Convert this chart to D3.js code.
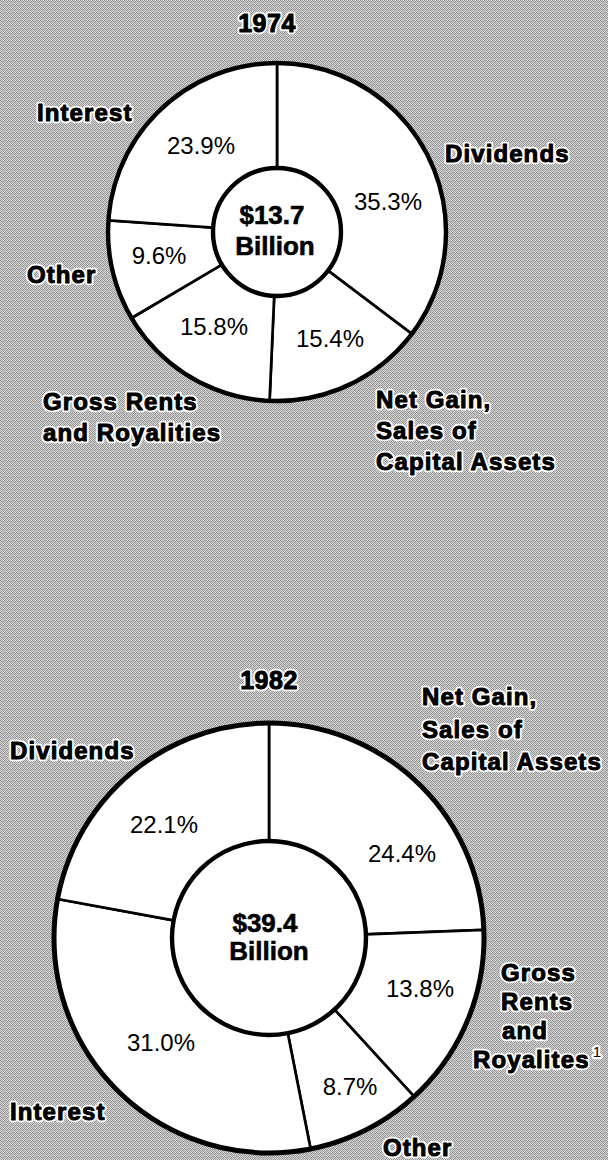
<!DOCTYPE html>
<html>
<head>
<meta charset="utf-8">
<script src="https://cdn.jsdelivr.net/npm/d3@7"></script>
<style>
  body { margin: 0; background: #b0b0b0; }
  svg { display: block; }
  .cat { font-family: "Liberation Sans", Arial, sans-serif; font-weight: bold; font-size: 24px; letter-spacing: 1.1px; }
  .cat.halo { fill: #fff; stroke: #fff; stroke-width: 4.5px; stroke-linejoin: round; }
  .cat.ink { fill: #000; stroke: #000; stroke-width: 1px; stroke-linejoin: round; }
  .pct { font-family: "Liberation Sans", Arial, sans-serif; font-size: 24px; fill: #000; }
  .tot { font-family: "Liberation Sans", Arial, sans-serif; font-weight: bold; font-size: 26px; fill: #000; stroke: #000; stroke-width: 0.6px; }
</style>
</head>
<body>
<svg id="chart" width="608" height="1160"></svg>
<script>
// data
var years = ["1974", "1982"];
var totals = ["$13.7", "$39.4"];
var categories1974 = ["Dividends", "Net Gain, Sales of Capital Assets", "Gross Rents and Royalities", "Other", "Interest"];
var shares1974 = [35.3, 15.4, 15.8, 9.6, 23.9];
var categories1982 = ["Net Gain, Sales of Capital Assets", "Gross Rents and Royalites", "Other", "Interest", "Dividends"];
var shares1982 = [24.4, 13.8, 8.7, 31.0, 22.1];

// how each category name is broken into lines
var lines1974 = [["Dividends"], ["Net Gain,", "Sales of", "Capital Assets"], ["Gross Rents", "and Royalities"], ["Other"], ["Interest"]];
var lines1982 = [["Net Gain,", "Sales of", "Capital Assets"], ["Gross", "Rents", "and", "Royalites"], ["Other"], ["Interest"], ["Dividends"]];

// layout
var layout = [
  { cx: 277, cy: 232, rOut: 169, rIn: 64, ringW: 4.4, yearX: 267, yearY: 32,
    totX: [272, 275], totY: [224, 255],
    pct: [[388, 210], [330, 347], [214, 335], [159, 264], [201, 154]],
    lab: [{x: 445, y: 162}, {x: 376, y: 408, lh: 31}, {x: 43, y: 410, lh: 31}, {x: 27, y: 283}, {x: 37, y: 121}] },
  { cx: 269, cy: 938, rOut: 215, rIn: 97, ringW: 5, yearX: 269, yearY: 689,
    totX: [265, 269], totY: [932, 960],
    pct: [[402, 862], [420, 997], [350, 1095], [161, 1051], [164, 833]],
    lab: [{x: 422, y: 705, lh: 32.5}, {x: 501, y: 981, lh: 29, dx: [0, 0, 1, -28], sup: "1"}, {x: 383, y: 1156}, {x: 10, y: 1120}, {x: 10, y: 759}] }
];

var svg = d3.select("#chart");

// halftone-like background
var defs = svg.append("defs");
var pat = defs.append("pattern").attr("id", "dots")
  .attr("patternUnits", "userSpaceOnUse").attr("width", 4).attr("height", 4);
var tile = ["#8c8c8c", "#d2d2d2", "#a2a2a2", "#dcdcdc",
            "#d6d6d6", "#989898", "#cacaca", "#8c8c8c",
            "#a8a8a8", "#dedede", "#8e8e8e", "#cdcdcd",
            "#d0d0d0", "#949494", "#dadada", "#9e9e9e"];
tile.forEach(function (c, i) {
  pat.append("rect").attr("x", i % 4).attr("y", Math.floor(i / 4))
    .attr("width", 1).attr("height", 1).attr("fill", c);
});
svg.append("rect").attr("width", 608).attr("height", 1160).attr("fill", "url(#dots)");

var pie = d3.pie().sort(null).value(function (d) { return d; });

// bold label with a white halo behind it
function haloText(parent, p, lines, size) {
  ["halo", "ink"].forEach(function (kind) {
    var t = parent.append("text").attr("class", "cat " + kind);
    if (size) t.style("font-size", size + "px").style("letter-spacing", "0.5px");
    lines.forEach(function (ln, j) {
      var dx = p.dx ? p.dx[j] : 0;
      t.append("tspan").attr("x", p.x + dx).attr("y", p.y + j * (p.lh || 0))
        .attr("text-anchor", p.anchor || "start").text(ln);
      if (p.sup && j === lines.length - 1) {
        t.append("tspan").attr("dx", 3).attr("dy", -11)
          .style("font-size", "15px").style("font-weight", "normal")
          .style("stroke-width", kind === "ink" ? "0px" : null).text(p.sup);
      }
    });
  });
}

function drawChart(i, cats, shares, lines) {
  var L = layout[i];
  var arcs = pie(shares);
  var arc = d3.arc().innerRadius(L.rIn).outerRadius(L.rOut);

  var g = svg.append("g")
    .attr("transform", "translate(" + L.cx + "," + L.cy + ")");

  g.selectAll("path.slice")
    .data(arcs)
    .enter().append("path")
    .attr("class", "slice")
    .attr("d", arc)
    .attr("fill", "#fff")
    .attr("stroke", "#000")
    .attr("stroke-width", 2.7);

  g.append("circle").attr("r", L.rOut).attr("fill", "none")
    .attr("stroke", "#000").attr("stroke-width", L.ringW);
  g.append("circle").attr("r", L.rIn).attr("fill", "#fff")
    .attr("stroke", "#000").attr("stroke-width", 4.4);

  // year
  haloText(svg, {x: L.yearX, y: L.yearY, anchor: "middle"}, [years[i]], 25);

  // total in the middle
  svg.append("text").attr("class", "tot")
    .attr("x", L.totX[0]).attr("y", L.totY[0]).attr("text-anchor", "middle")
    .text(totals[i]);
  svg.append("text").attr("class", "tot")
    .attr("x", L.totX[1]).attr("y", L.totY[1]).attr("text-anchor", "middle")
    .text("Billion");

  // percentages
  svg.selectAll(null)
    .data(arcs)
    .enter().append("text")
    .attr("class", "pct")
    .attr("text-anchor", "middle")
    .attr("x", function (d, k) { return L.pct[k][0]; })
    .attr("y", function (d, k) { return L.pct[k][1]; })
    .text(function (d) { return d.data.toFixed(1) + "%"; });

  // category labels
  cats.forEach(function (c, k) {
    haloText(svg, L.lab[k], lines[k]);
  });
}

drawChart(0, categories1974, shares1974, lines1974);
drawChart(1, categories1982, shares1982, lines1982);
</script>
</body>
</html>
